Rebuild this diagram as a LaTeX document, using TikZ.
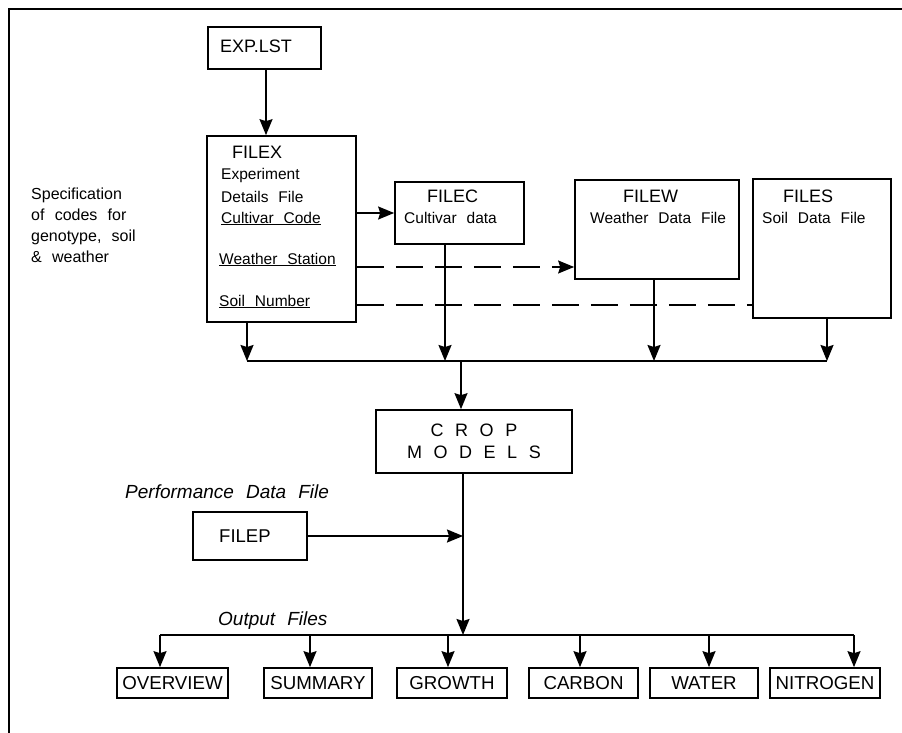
\documentclass[tikz,border=0pt]{standalone}
\usepackage{fontspec}
\setmainfont{Liberation Sans}[WordSpace=2.3]
\usetikzlibrary{arrows.meta, positioning}

\begin{document}
\begin{tikzpicture}[x=1pt, y=-1pt,
      box/.style={draw, line width=1.7pt, inner sep=0pt},
      txt/.style={anchor=base west, inner sep=0pt},
      ln/.style={line width=1.7pt},
      arr/.style={line width=1.7pt, -{Stealth[length=16pt, width=13pt, inset=2pt]}},
      dsh/.style={line width=1.3pt, dash pattern=on 27pt off 12pt},
      big/.style={font=\fontsize{18}{22}\selectfont},
      sml/.style={font=\fontsize{15.5}{21}\selectfont},
      outl/.style={font=\fontsize{18.7}{22}\selectfont},
      itl/.style={font=\fontsize{19}{22}\selectfont\itshape}]
    \useasboundingbox (0,0) rectangle (902,733);
    \draw[ln] (9,733) -- (9,9) -- (902,9);
    % input files
    \node[box, minimum width=113pt, minimum height=42pt] (exp) at (264.5,48) {};
    \node[txt, big] (expt) at (220,53) {EXP.LST};
    \node[box, minimum width=149pt, minimum height=186pt] (fx) at (281.5,229) {};
    \node[txt, big] (fxt) at (232,158) {FILEX};
    \node[txt, sml] (fx1) at (221,179) {Experiment};
    \node[txt, sml] (fx2) at (221,202) {Details File};
    \node[txt, sml] (cc) at (221,223) {\underline{Cultivar Code}};
    \node[txt, sml] (ws) at (219,264) {\underline{Weather Station}};
    \node[txt, sml] (sn) at (219,306) {\underline{Soil Number}};
    \node[box, minimum width=129pt, minimum height=62pt] (fc) at (459.5,213) {};
    \node[txt, big] (fct) at (427,202) {FILEC};
    \node[txt, sml] (fc1) at (404,223) {Cultivar data};
    \node[box, minimum width=164pt, minimum height=99pt] (fw) at (657,229.5) {};
    \node[txt, big] (fwt) at (623,202) {FILEW};
    \node[txt, sml] (fw1) at (590,223) {Weather Data File};
    \node[box, minimum width=138pt, minimum height=139pt] (fs) at (822,248.5) {};
    \node[txt, big] (fst) at (783,202) {FILES};
    \node[txt, sml] (fs1) at (762,223) {Soil Data File};
    \node[anchor=north west, inner sep=0pt, align=left, font=\fontsize{16}{21}\selectfont] (spec) at (31,188)
      {Specification\\of codes for\\genotype, soil\\\& weather};
    \draw[arr] (exp.south-|266,0) -- (fx.north-|266,0);
    \draw[arr] (fx.east|-fc.west) -- (fc.west);
    \coordinate (wsy) at (356,267);
    \coordinate (sny) at (356,305);
    \draw[dsh, -{Stealth[length=16pt, width=13pt, inset=2pt]}] (fx.east|-wsy) -- (fw.west|-wsy);
    \draw[dsh] (fx.east|-sny) -- (fs.west|-sny);
    % collecting line
    \coordinate (j1) at (247,361);
    \coordinate (j2) at (445,361);
    \coordinate (j3) at (654,361);
    \coordinate (j4) at (827,361);
    \coordinate (jm) at (461,361);
    \draw[arr] (fx.south-|j1) -- (j1);
    \draw[arr] (fc.south-|j2) -- (j2);
    \draw[arr] (fw.south-|j3) -- (j3);
    \draw[arr] (fs.south-|j4) -- (j4);
    \draw[ln] (j1) -- (j4);
    % model
    \node[box, minimum width=196pt, minimum height=63pt, align=center, big] (cm) at (474,441.5) {C R O P\\M O D E L S};
    \draw[arr] (jm) -- (jm|-cm.north);
    \node[txt, itl] (pdf) at (125,498) {Performance Data File};
    \node[box, minimum width=114pt, minimum height=48pt] (fp) at (250,536) {};
    \node[txt, font=\fontsize{18.5}{22}\selectfont] (fpt) at (219,542) {FILEP};
    \coordinate (o0) at (463,635);
    \draw[arr] (cm.south-|o0) -- (o0);
    \draw[arr] (fp.east) -- (fp.east-|o0);
    % output files
    \node[txt, itl] (outt) at (218,625) {Output Files};
    \node[box, outl, minimum width=111pt, minimum height=30pt] (ov) at (172.5,683) {OVERVIEW};
    \node[box, outl, minimum width=108pt, minimum height=30pt] (su) at (318,683) {SUMMARY};
    \node[box, outl, minimum width=110pt, minimum height=30pt] (gr) at (452,683) {GROWTH};
    \node[box, outl, minimum width=109pt, minimum height=30pt] (ca) at (583.5,683) {CARBON};
    \node[box, outl, minimum width=108pt, minimum height=30pt] (wa) at (704,683) {WATER};
    \node[box, outl, minimum width=110pt, minimum height=30pt] (ni) at (825,683) {NITROGEN};
    \coordinate (d1) at (160,635);
    \coordinate (d2) at (310,635);
    \coordinate (d3) at (448,635);
    \coordinate (d4) at (580,635);
    \coordinate (d5) at (709,635);
    \coordinate (d6) at (854,635);
    \draw[ln] (d1) -- (d6);
    \draw[arr] (d1) -- (d1|-ov.north);
    \draw[arr] (d2) -- (d2|-su.north);
    \draw[arr] (d3) -- (d3|-gr.north);
    \draw[arr] (d4) -- (d4|-ca.north);
    \draw[arr] (d5) -- (d5|-wa.north);
    \draw[arr] (d6) -- (d6|-ni.north);
  \end{tikzpicture}
\end{document}
